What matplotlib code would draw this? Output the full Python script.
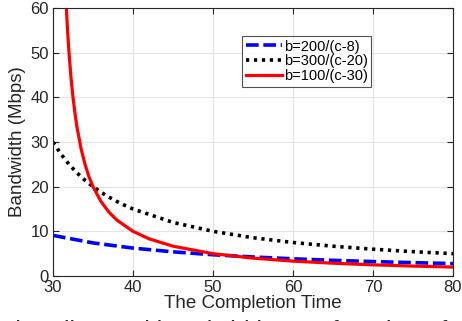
import matplotlib
matplotlib.use("Agg")
import matplotlib.pyplot as plt

plt.rcParams['font.family'] = ['Liberation Sans', 'DejaVu Sans']

# b=200/(c-8)
blue_x = [30, 35, 40, 45, 50, 55, 60, 65, 70, 75, 80]
blue_y = [9.09, 7.41, 6.25, 5.41, 4.76, 4.26, 3.85, 3.51, 3.23, 2.99, 2.78]

# b=300/(c-20)
black_x = [30, 31, 32, 33, 34, 35, 36, 37, 38, 39, 40, 45, 50, 55, 60, 65, 70, 75, 80]
black_y = [30, 27.27, 25, 23.08, 21.43, 20, 18.75, 17.65, 16.67, 15.79, 15,
           12, 10, 8.57, 7.5, 6.67, 6, 5.45, 5]

# b=100/(c-30)
red_x = [31.4, 31.6, 31.8, 32, 32.25, 32.5, 32.75, 33, 33.5, 34, 34.5, 35, 36, 37, 38, 40,
         42, 45, 50, 55, 60, 65, 70, 75, 80]
red_y = [71.4, 62.5, 55.6, 50, 44.4, 40, 36.4, 33.3, 28.6, 25, 22.2, 20, 16.67, 14.29, 12.5, 10,
         8.33, 6.67, 5, 4, 3.33, 2.86, 2.5, 2.22, 2]

labels = ["b=200/(c-8)", "b=300/(c-20)", "b=100/(c-30)"]

fig = plt.figure(figsize=(4.62, 3.21), dpi=100)
ax = fig.add_axes([53/462, 1 - 276/321, 400/462, 268/321])

ax.plot(blue_x, blue_y, color="#0000ff", lw=2.6, linestyle=(0, (3.5, 1.3)), label=labels[0])
ax.plot(black_x, black_y, color="black", lw=2.6, linestyle=(0, (0.9, 1.3)), label=labels[1])
ax.plot(red_x, red_y, color="#ff0000", lw=2.3, label=labels[2])

ax.set_xlim(30, 80)
ax.set_ylim(0, 60)
ax.set_xticks([30, 40, 50, 60, 70, 80])
ax.set_yticks([0, 10, 20, 30, 40, 50, 60])
ax.grid(True, color="#e3e3e3", lw=0.8)
ax.set_axisbelow(True)
ax.tick_params(direction="in", top=True, right=True, length=4, width=0.8,
               colors="#262626", labelsize=12, pad=3)
for s in ax.spines.values():
    s.set_color("#262626")
    s.set_linewidth(0.8)

ax.set_xlabel("The Completion Time", fontsize=13.5, color="#262626", labelpad=0)
ax.set_ylabel("Bandwidth (Mbps)", fontsize=13.5, color="#262626", labelpad=3)

leg = ax.legend(loc="upper left", bbox_to_anchor=(0.4725, 0.896), borderaxespad=0,
                fontsize=10.5, frameon=True, fancybox=False, handlelength=2.5,
                handletextpad=0.1, borderpad=0.25, labelspacing=0.05)
leg.get_frame().set_edgecolor("#262626")
leg.get_frame().set_linewidth(0.8)

fig.text(0.0, -0.056, "The allocated bandwidth as a function of", fontsize=18,
         color="#262626", va="baseline", ha="left")

fig.savefig("out.png", dpi=100)
